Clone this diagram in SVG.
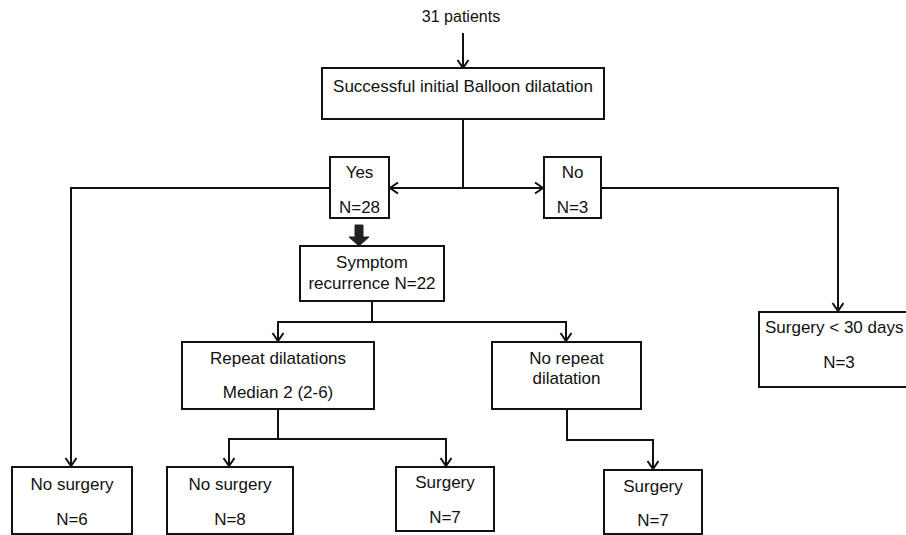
<svg xmlns="http://www.w3.org/2000/svg" width="906" height="535" viewBox="0 0 906 535">
<defs>
<style>
.box{fill:#fff;stroke:#111;stroke-width:2}
.ln{fill:none;stroke:#111;stroke-width:2}
text{font-family:"Liberation Sans",Arial,sans-serif;font-size:17px;fill:#111;text-anchor:middle}
</style>
<marker id="ah" markerUnits="userSpaceOnUse" markerWidth="14" markerHeight="14" refX="9" refY="6" orient="auto">
<path d="M1,0.5 L9,6 L1,11.5" fill="none" stroke="#111" stroke-width="2"/>
</marker>
</defs>
<rect width="906" height="535" fill="#fff"/>
<text x="461" y="22" style="font-size:16px">31 patients</text>
<g id="connectors">
<line class="ln" x1="463" y1="33" x2="463" y2="68" marker-end="url(#ah)"/>
<line class="ln" x1="463" y1="119" x2="463" y2="188"/>
<line class="ln" x1="463" y1="188" x2="390" y2="188" marker-end="url(#ah)"/>
<line class="ln" x1="463" y1="188" x2="543" y2="188" marker-end="url(#ah)"/>
<polyline class="ln" points="330,188 71,188 71,466" marker-end="url(#ah)"/>
<polyline class="ln" points="601,188 838,188 838,311" marker-end="url(#ah)"/>
<path d="M355,225 H363 V237 H369 L359,246 L349,237 H355 Z" fill="#222" stroke="#222" stroke-width="1"/>
<line class="ln" x1="372" y1="301" x2="372" y2="322"/>
<polyline class="ln" points="372,322 278,322 278,341" marker-end="url(#ah)"/>
<polyline class="ln" points="372,322 566,322 566,341" marker-end="url(#ah)"/>
<line class="ln" x1="278" y1="409" x2="278" y2="439"/>
<polyline class="ln" points="278,439 229,439 229,466" marker-end="url(#ah)"/>
<polyline class="ln" points="278,439 446,439 446,466" marker-end="url(#ah)"/>
<polyline class="ln" points="567,409 567,440 653,440 653,469" marker-end="url(#ah)"/>
</g>
<g id="n-start"><rect class="box" x="322" y="68" width="282" height="51"/><text x="463" y="92">Successful initial Balloon dilatation</text></g>
<g id="n-yes"><rect class="box" x="330" y="157" width="59" height="61"/><text x="359.5" y="178">Yes</text><text x="359.5" y="213">N=28</text></g>
<g id="n-no"><rect class="box" x="544" y="157" width="57" height="61"/><text x="572.5" y="178">No</text><text x="572.5" y="213">N=3</text></g>
<g id="n-symptom"><rect class="box" x="300" y="246" width="144" height="55"/><text x="372" y="268">Symptom</text><text x="372" y="289">recurrence N=22</text></g>
<g id="n-repeat"><rect class="box" x="182" y="342" width="192" height="67"/><text x="278" y="364">Repeat dilatations</text><text x="278" y="398">Median 2 (2-6)</text></g>
<g id="n-norepeat"><rect class="box" x="492" y="342" width="149" height="67"/><text x="566.5" y="364">No repeat</text><text x="566.5" y="384">dilatation</text></g>
<g id="n-surg30"><rect class="box" x="759" y="312" width="160" height="75"/><text x="765" y="333" style="text-anchor:start">Surgery &lt; 30 days</text><text x="839" y="368">N=3</text></g>
<g id="n-nosurg1"><rect class="box" x="12" y="467" width="120" height="67"/><text x="72" y="490">No surgery</text><text x="72" y="525">N=6</text></g>
<g id="n-nosurg2"><rect class="box" x="167" y="467" width="126" height="67"/><text x="230" y="490">No surgery</text><text x="230" y="525">N=8</text></g>
<g id="n-surg1"><rect class="box" x="396" y="467" width="98" height="64"/><text x="445" y="488">Surgery</text><text x="445" y="523">N=7</text></g>
<g id="n-surg2"><rect class="box" x="604" y="470" width="98" height="64"/><text x="653" y="492">Surgery</text><text x="653" y="526">N=7</text></g>
</svg>
